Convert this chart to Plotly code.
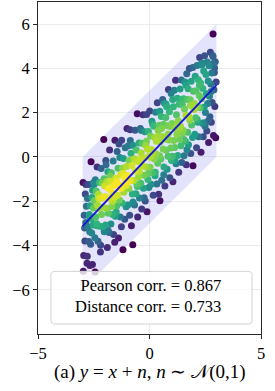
import numpy as np
import plotly.graph_objects as go

# ---- data ----
x_vals = [
    -2.98, -2.95, -2.93, -2.9, -2.88, -2.86, -2.83, -2.8, -2.78, -2.76, -2.74, -2.72, -2.7, -2.68, -2.66,
    -2.64, -2.62, -2.6, -2.58, -2.56, -2.55, -2.53, -2.51, -2.97, -2.91, -2.85, -2.79, -2.69, -2.59, -2.52,
    -2.44, -2.47, -2.45, -2.43, -2.41, -2.39, -2.37, -2.35, -2.33, -2.31, -2.29, -2.27, -2.25, -2.23, -2.21,
    -2.19, -2.17, -2.15, -2.13, -2.11, -2.09, -2.07, -2.05, -2.03, -2.01, -2.49, -2.36, -2.28, -2.2, -2.04,
    -1.99, -1.97, -1.95, -1.93, -1.91, -1.89, -1.87, -1.85, -1.83, -1.81, -1.79, -1.77, -1.75, -1.73, -1.71,
    -1.69, -1.67, -1.65, -1.63, -1.61, -1.59, -1.57, -1.55, -1.53, -1.51, -1.96, -1.86, -1.76, -1.66, -1.56,
    -1.49, -1.47, -1.45, -1.43, -1.41, -1.39, -1.37, -1.35, -1.33, -1.31, -1.29, -1.27, -1.25, -1.23, -1.21,
    -1.19, -1.17, -1.15, -1.13, -1.11, -1.09, -1.07, -1.05, -1.03, -1.01, -1.46, -1.37, -1.26, -1.19, -1.04,
    -0.99, -0.97, -0.95, -0.93, -0.91, -0.89, -0.87, -0.85, -0.83, -0.81, -0.79, -0.77, -0.75, -0.73, -0.71,
    -0.69, -0.67, -0.65, -0.63, -0.61, -0.59, -0.57, -0.55, -0.53, -0.51, -0.96, -0.86, -0.74, -0.64, -0.54,
    -0.49, -0.47, -0.45, -0.43, -0.41, -0.39, -0.37, -0.35, -0.33, -0.31, -0.29, -0.27, -0.25, -0.23, -0.21,
    -0.19, -0.17, -0.15, -0.13, -0.11, -0.09, -0.07, -0.05, -0.03, -0.01, -0.46, -0.36, -0.24, -0.14, -0.04,
    0.01, 0.03, 0.05, 0.07, 0.09, 0.11, 0.13, 0.15, 0.17, 0.19, 0.21, 0.23, 0.25, 0.27, 0.29,
    0.31, 0.33, 0.35, 0.37, 0.39, 0.41, 0.43, 0.45, 0.47, 0.49, 0.04, 0.14, 0.26, 0.36, 0.46,
    0.51, 0.53, 0.55, 0.57, 0.59, 0.61, 0.63, 0.65, 0.67, 0.69, 0.71, 0.73, 0.75, 0.77, 0.79,
    0.81, 0.83, 0.85, 0.87, 0.89, 0.91, 0.93, 0.95, 0.97, 0.99, 0.54, 0.64, 0.74, 0.84, 0.94,
    1.01, 1.03, 1.05, 1.07, 1.09, 1.11, 1.13, 1.15, 1.17, 1.19, 1.21, 1.23, 1.25, 1.27, 1.29,
    1.31, 1.33, 1.35, 1.37, 1.39, 1.41, 1.43, 1.45, 1.47, 1.49, 1.04, 1.14, 1.24, 1.34, 1.44,
    1.51, 1.53, 1.55, 1.57, 1.59, 1.61, 1.63, 1.65, 1.67, 1.69, 1.71, 1.73, 1.75, 1.77, 1.79,
    1.81, 1.83, 1.85, 1.87, 1.89, 1.91, 1.93, 1.95, 1.97, 1.99, 1.54, 1.64, 1.68, 1.84, 1.94,
    2.01, 2.03, 2.05, 2.07, 2.09, 2.11, 2.13, 2.15, 2.17, 2.19, 2.21, 2.23, 2.25, 2.27, 2.29,
    2.31, 2.33, 2.35, 2.37, 2.39, 2.41, 2.43, 2.45, 2.47, 2.49, 2.04, 2.14, 2.24, 2.34, 2.44,
    2.51, 2.53, 2.55, 2.57, 2.59, 2.61, 2.63, 2.65, 2.67, 2.69, 2.71, 2.73, 2.75, 2.77, 2.79,
    2.81, 2.83, 2.85, 2.87, 2.89, 2.91, 2.93, 2.95, 2.97, 2.99, 2.85, 2.86, 2.64, 2.76, 2.92,
    -2.67,
]
y_vals = [
    -1.15, -4.45, -2.63, -3.8, -1.68, -2.96, -2.23, -4.8, -1.88, -3.16, -1.24, -3.82, -2.6, -3.38, -2.21,
    -3.94, -0.22, -2.8, -1.83, -4.86, -1.5, -3.08, -2.31, -5.17, -3.21, -1.25, -4.49, -2.69, -3.44, -1.17,
    -5.2, -1.97, -3.65, -1.03, -2.71, -1.54, -3.02, -0.45, -2.18, -3.81, -1.69, -2.32, -1.15, -3.13, -1.86,
    -3.99, -0.52, -2.6, -1.18, -3.16, -1.84, -2.27, 0.79, -3.38, -1.31, -1.24, -3.11, -1.88, -4.3, -0.99,
    -1.79, -3.07, -0.35, -2.33, -1.11, -4.09, -0.67, -2.55, -1.43, -3.41, 0.31, -1.87, -1.1, -3.03, -0.71,
    -2.24, -1.62, -2.6, -0.18, -3.51, -1.29, -1.82, 0.75, -2.68, -0.96, -0.16, -3.31, -0.86, -2.01, -3.86,
    -2.49, -1.12, 0.25, -1.73, -0.51, -3.66, -1.27, -1.95, -0.03, -2.71, -0.79, -1.42, 0.75, -2.08, -0.51,
    -4.19, -0.07, -1.6, -0.93, -2.81, 0.41, -1.12, -2.25, -0.43, 1.29, -2.21, 0.58, -3.16, -0.74, -1.29,
    -0.84, -2.17, 0.5, -1.43, -0.16, -2.64, 1.23, -1.05, 0.17, -3.11, -0.39, -1.67, -3.97, 0.52, -1.06,
    -0.09, -2.17, 1.2, -0.63, -1.66, 0.31, -1.22, 1.95, -2.71, -0.21, -1.11, 0.74, -2.04, -0.09, -1.34,
    -0.89, 0.63, -1.85, -0.13, 1.29, -1.19, 0.18, -2.35, 0.62, -0.41, 1.91, -1.42, -0.05, -0.83, 1.14,
    -1.99, 0.53, -0.45, 1.92, -2.48, 0.36, -1.02, 1.15, -1.38, 0.04, -0.66, 1.19, -1.84, 0.71, -0.74,
    2.07, -0.47, 0.95, -1.23, 0.34, 1.61, -0.72, 0.2, -1.73, 1.39, -0.09, 0.88, -0.85, 2.02, 0.14,
    0.71, -1.22, 2.45, -0.28, 1.19, -1.69, 1.43, 0.05, -1.98, 0.69, -0.01, 1.49, -0.69, 0.91, 2.06,
    -0.09, 1.83, -1.05, 0.92, 2.59, 0.36, 1.48, -0.45, 2.42, -1.31, 0.81, 1.78, 0.3, 2.27, -0.56,
    1.41, 0.03, 3.05, 0.77, 2.04, -0.94, 1.38, 0.4, 2.87, -0.16, 1.29, -0.81, 2.39, 1.04, -0.01,
    1.51, 0.03, -1.12, 2.27, 0.74, 3.01, 0.43, 1.3, 3.47, -0.31, 1.91, 1.03, 2.65, 0.07, 1.64,
    -0.69, 2.38, 0.8, 3.07, 1.39, 0.51, 3.48, -0.25, 2.37, 1.09, 2.59, -0.16, 1.49, 1.29, 2.59,
    1.21, 2.63, 0.05, 2.17, 3.39, 0.71, 1.88, -0.35, 3.76, 2.59, 1.11, 3.08, 0.55, 1.82, 3.99,
    1.66, 2.58, 0.15, 3.42, 1.44, 2.31, 0.88, -0.4, 2.97, 2.14, 0.79, 3.24, 0.33, 2.34, 4.04,
    2.41, 1.03, 3.65, 1.77, 2.99, 0.41, 4.13, 2.25, 1.57, 3.49, 0.91, 2.78, 4.49, 2.22, 3.34,
    0.21, 2.63, 4.15, 1.52, 3.09, 0.91, 3.88, 2.25, 4.57, 1.39, 2.24, 1.69, 3.24, 4.24, 1.54,
    2.01, 3.73, 2.85, 1.17, 4.29, 2.41, 3.43, 0.65, 4.12, 2.74, 1.81, 4.73, 3.3, 1.57, 3.79,
    2.46, 4.58, 5.55, 0.97, 3.04, 3.81, 2.28, 4.3, 0.87, 3.39, 4.54, 4.22, 1.64, 2.96, 4.02,
    -4.9,
]

# shaded band: y between x - band_half and x + band_half, x in [band_x0, band_x1]
band_x0, band_x1, band_half = -3.0, 3.0, 3.0

pearson_corr = 0.867
distance_corr = 0.733
x_ticks = [-5, 0, 5]
y_ticks = [-6, -4, -2, 0, 2, 4, 6]
x_range = [-5, 5]
y_range = [-8, 7]

# ---- colour by Gaussian KDE density ----
xs = np.array(x_vals)
ys = np.array(y_vals)
pts = np.vstack([xs, ys])
factor = 0.28
cov = np.cov(pts) * factor ** 2
inv = np.linalg.inv(cov)
diff = pts[:, :, None] - pts[:, None, :]
m = np.einsum('ijk,il,ljk->jk', diff, inv, diff)
dens = np.exp(-0.5 * m).sum(axis=1)
dens = (dens - dens.min()) / (dens.max() - dens.min())
shade = dens ** 1.7
order = np.argsort(shade)

# regression line
slope, intercept = np.polyfit(xs, ys, 1)
line_x = [band_x0, band_x1]
line_y = [slope * v + intercept for v in line_x]

FONT = "Liberation Serif, Times New Roman, serif"

fig = go.Figure()
fig.add_trace(go.Scatter(
    x=[band_x0, band_x1, band_x1, band_x0, band_x0],
    y=[band_x0 - band_half, band_x1 - band_half, band_x1 + band_half, band_x0 + band_half, band_x0 - band_half],
    fill="toself", fillcolor="rgba(70,70,230,0.15)", line=dict(width=0),
    mode="lines", hoverinfo="skip", showlegend=False,
))
fig.add_trace(go.Scatter(
    x=xs[order], y=ys[order], mode="markers",
    marker=dict(size=7, color=shade[order], colorscale="Viridis", line=dict(width=0)),
    showlegend=False,
))
fig.add_trace(go.Scatter(
    x=line_x, y=line_y, mode="lines",
    line=dict(color="rgb(25,25,205)", width=2), showlegend=False,
))

# legend-like box
bx0, bx1, by0, by1, r = -4.42, 4.6, -7.55, -5.17, 0.18
path = (f"M {bx0+r},{by0} L {bx1-r},{by0} Q {bx1},{by0} {bx1},{by0+r} "
        f"L {bx1},{by1-r} Q {bx1},{by1} {bx1-r},{by1} L {bx0+r},{by1} "
        f"Q {bx0},{by1} {bx0},{by1-r} L {bx0},{by0+r} Q {bx0},{by0} {bx0+r},{by0} Z")
fig.add_shape(type="path", path=path, xref="x", yref="y", layer="above",
              fillcolor="rgba(255,255,255,0.8)", line=dict(color="rgb(210,210,210)", width=1))
fig.add_annotation(
    x=3.3, y=-6.29, xref="x", yref="y", xanchor="right", yanchor="middle", align="right",
    text=f"Pearson corr. = {pearson_corr:.3f}<br>Distance corr. = {distance_corr:.3f}",
    showarrow=False, font=dict(family=FONT, size=16.5, color="black"),
)
fig.add_annotation(
    x=0.5, y=-0.113, xref="paper", yref="paper", xanchor="center", yanchor="middle",
    text="(a) <i>y</i> = <i>x</i> + <i>n</i>, <i>n</i> ∼ 𝒩(0,1)",
    showarrow=False, font=dict(family=FONT, size=19, color="black"),
)

axis_common = dict(
    showgrid=True, gridcolor="rgb(235,235,235)", gridwidth=1,
    showline=True, linecolor="rgb(40,40,40)", linewidth=1, mirror=True,
    ticks="outside", ticklen=4, tickwidth=1, tickcolor="rgb(40,40,40)",
    zeroline=False, automargin=False,
    tickfont=dict(family=FONT, size=16.5, color="black"),
)
fig.update_xaxes(range=x_range, tickvals=x_ticks, **axis_common)
fig.update_yaxes(range=y_range, tickvals=y_ticks, **axis_common)
fig.update_layout(
    width=275, height=391,
    margin=dict(l=38, r=14, t=2, b=57),
    plot_bgcolor="white", paper_bgcolor="white",
    font=dict(family=FONT),
)
fig.write_html(
    "out.html",
    config={"displayModeBar": False},
    post_script="document.body.style.margin='0';document.body.style.overflow='hidden';",
)
